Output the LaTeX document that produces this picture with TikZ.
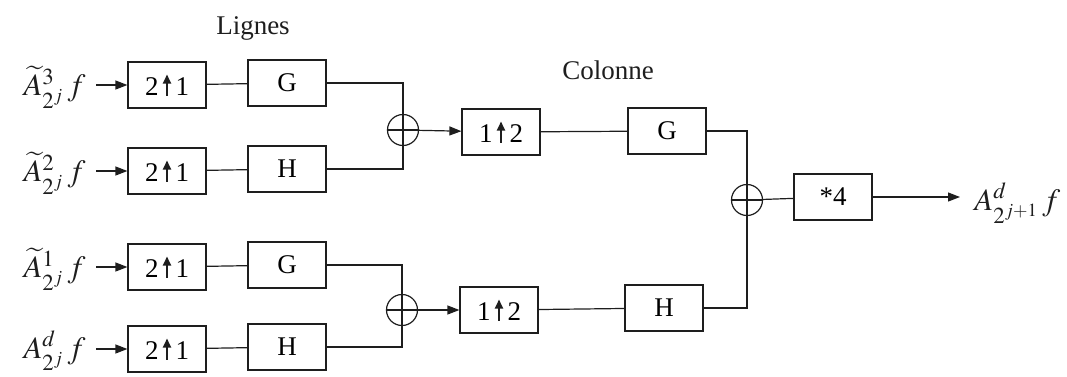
\documentclass[tikz,border=0pt]{standalone}
\usepackage{mathptmx}
\usepackage{fontspec}
\setmainfont{Liberation Serif}
\usepackage{tikz}
\usetikzlibrary{arrows.meta,positioning,calc}
\definecolor{rcink}{HTML}{1E1E1E}
\tikzset{
  rcbox/.style={draw=rcink, line width=0.6pt, minimum width=39pt, minimum height=23pt,
                inner sep=0pt, font=\fontsize{13.5}{16}\selectfont},
  rcsum/.style={draw=rcink, line width=0.6pt, circle, minimum size=15.5pt, inner sep=0pt,
                path picture={\draw[rcink, line width=0.6pt]
                  (path picture bounding box.north) -- (path picture bounding box.south)
                  (path picture bounding box.west) -- (path picture bounding box.east);}},
  rcwire/.style={draw=rcink, line width=0.6pt},
  rcarrow/.style={rcwire, -{Triangle[length=6pt,width=4.5pt]}},
  rclabel/.style={font=\fontsize{13.5}{16}\selectfont, text=rcink},
  rcmath/.style={font=\fontsize{15.5}{18}\selectfont, text=rcink, inner sep=1pt},
}
% solid upward arrow used inside the sampling boxes
\newcommand{\rcup}{\tikz[baseline=0pt,x=1pt,y=1pt]
  \draw[rcink, line width=1pt, -{Triangle[length=4.5pt,width=4pt]}] (0,0) -- (0,10.5);}

\begin{document}
\begin{tikzpicture}[x=0.5pt,y=-0.5pt]
  \useasboundingbox (0,0) rectangle (1067,376);

  \node[rclabel] (lignes) at (253,28) {Lignes};
  \node[rclabel] (colonne) at (608,70) {Colonne};

  % row inputs, upsampling and line filters
  \foreach \i/\yy/\ff/\inp in {1/85/G/{\widetilde{A}^{3}_{2^j}\, f},
                               2/171/H/{\widetilde{A}^{2}_{2^j}\, f},
                               3/267/G/{\widetilde{A}^{1}_{2^j}\, f},
                               4/349/H/{A^{d}_{2^j}\, f}} {
    \node[rcbox] (up\i) at (167,\yy) {2\,\rcup\,1};
    \node[rcbox] (flt\i) at (287,\yy-2) {\ff};
    \node[rcmath, anchor=east] (in\i) at (88,\yy+2) {$\inp$};
    \draw[rcarrow] (up\i.west -| in\i.east) ++(8,0) -- (up\i.west);
    \draw[rcwire] (up\i) -- (flt\i);
  }

  \node[rcsum] (sumA) at (403,130) {};
  \node[rcsum] (sumB) at (402,310) {};
  \draw[rcwire] (flt1.east) -| (sumA.north);
  \draw[rcwire] (flt2.east) -| (sumA.south);
  \draw[rcwire] (flt3.east) -| (sumB.north);
  \draw[rcwire] (flt4.east) -| (sumB.south);

  % column stage
  \node[rcbox] (colA) at (501,132) {1\,\rcup\,2};
  \node[rcbox] (colB) at (499,310) {1\,\rcup\,2};
  \node[rcbox] (colG) at (667,131) {G};
  \node[rcbox] (colH) at (664,308) {H};
  \draw[rcarrow] (sumA) -- (colA);
  \draw[rcarrow] (sumB) -- (colB);
  \draw[rcwire] (colA) -- (colG);
  \draw[rcwire] (colB) -- (colH);

  \node[rcsum] (sumC) at (747,200) {};
  \draw[rcwire] (colG.east) -| (sumC.north);
  \draw[rcwire] (colH.east) -| (sumC.south);

  \node[rcbox] (gain) at (833,197) {*4};
  \node[rcmath, anchor=west] (out) at (972,203) {$A^{d}_{2^{j+1}}\, f$};
  \draw[rcwire] (sumC) -- (gain);
  \draw[rcarrow] (gain.east) -- ($(gain.east -| out.west)+(-12,0)$);
\end{tikzpicture}
\end{document}
